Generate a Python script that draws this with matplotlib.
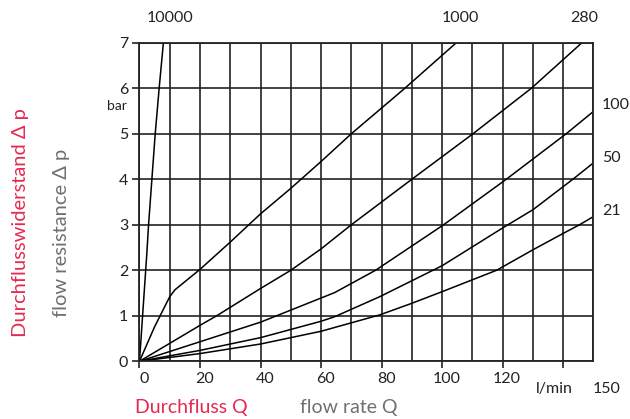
import matplotlib
matplotlib.use("Agg")
import matplotlib.pyplot as plt
import matplotlib.transforms as mtransforms

# flow resistance curves (x: l/min, y: bar)
q_10000 = [0, 2.4, 3.0, 5.2, 6.5, 7.9]
dp_10000 = [0, 2.34, 3.0, 5.0, 6.0, 7.0]

q_1000 = [0, 5, 10, 11.7, 20, 30, 40, 50, 60, 70, 87.7, 104.7]
dp_1000 = [0, 0.76, 1.42, 1.57, 2.02, 2.62, 3.24, 3.80, 4.39, 5.0, 6.0, 7.0]

q_280 = [0, 20, 25.5, 40, 50, 60, 70, 90, 110.2, 129.5, 146.2]
dp_280 = [0, 0.79, 1.0, 1.6, 2.0, 2.47, 3.0, 4.0, 5.0, 6.0, 7.0]

q_100 = [0, 20, 40, 45.3, 64.5, 78, 100.5, 121.2, 141, 150]
dp_100 = [0, 0.43, 0.86, 1.0, 1.51, 2.0, 3.0, 4.0, 5.0, 5.49]

q_50 = [0, 20, 40, 60, 64.5, 79.4, 100, 120, 130, 143.2, 150]
dp_50 = [0, 0.24, 0.52, 0.88, 0.98, 1.42, 2.1, 2.93, 3.33, 4.0, 4.36]

q_21 = [0, 20, 40, 60, 79.4, 89.8, 100, 118, 130, 140, 145.4, 150]
dp_21 = [0, 0.17, 0.38, 0.66, 1.02, 1.27, 1.53, 2.0, 2.45, 2.81, 3.0, 3.18]

x_ticks = [0, 20, 40, 60, 80, 100, 120, 140]
x_labels = ["0", "20", "40", "60", "80", "100", "120", ""]
y_ticks = [0, 1, 2, 3, 4, 5, 6, 7]

RED = "#e52a50"
GRAY = "#707070"
INK = "#222222"

plt.rcParams["font.family"] = ["Lato", "DejaVu Sans"]

fig = plt.figure(figsize=(6.3, 4.19), dpi=100)
ax = fig.add_axes([0.2214, 0.1377, 0.7206, 0.7604])

series = [(q_10000, dp_10000), (q_1000, dp_1000), (q_280, dp_280),
          (q_100, dp_100), (q_50, dp_50), (q_21, dp_21)]
for q, dp in series:
    ax.plot(q, dp, color="black", lw=1.1, solid_joinstyle="round")

ax.set_xlim(0, 150)
ax.set_ylim(0, 7)
ax.set_xticks(range(0, 151, 10), minor=True)
ax.set_xticks(x_ticks)
ax.set_xticklabels(x_labels)
ax.set_yticks(y_ticks)
ax.grid(True, which="both", color=INK, lw=1.2)
ax.tick_params(axis="x", which="minor", length=0)
ax.tick_params(axis="both", which="major", length=5, width=1.2, color=INK,
               labelsize=11.5, labelcolor=INK, pad=3)
for s in ax.spines.values():
    s.set_color(INK)
    s.set_linewidth(1.3)
ax.set_axisbelow(True)

# x tick labels sit a little to the right of their ticks
shift = mtransforms.ScaledTranslation(0.045, 0, fig.dpi_scale_trans)
for lbl in ax.get_xticklabels():
    lbl.set_transform(lbl.get_transform() + shift)

# curve labels
for txt, x, y in [("10000", 10, 7.55), ("1000", 106, 7.55), ("280", 147, 7.55)]:
    ax.text(x, y, txt, ha="center", va="center", fontsize=11.5, color=INK)
for txt, y in [("100", 5.63), ("50", 4.47), ("21", 3.3)]:
    ax.text(152.8, y, txt, ha="left", va="center", fontsize=11.5, color=INK)

ax.text(-4.2, 5.6, "bar", ha="right", va="center", fontsize=10, color=INK)
ax.text(137, -0.6, "l/min", ha="center", va="center", fontsize=11.5, color=INK)
ax.text(154.5, -0.6, "150", ha="center", va="center", fontsize=11.5, color=INK)

fig.text(0.032, 0.47, "Durchflusswiderstand \u0394 p", rotation=90,
         ha="center", va="center", fontsize=14.5, color=RED)
fig.text(0.098, 0.445, "flow resistance \u0394 p", rotation=90,
         ha="center", va="center", fontsize=14.5, color=GRAY)
fig.text(0.214, 0.028, "Durchfluss Q", ha="left", va="center",
         fontsize=14, color=RED)
fig.text(0.476, 0.028, "flow rate Q", ha="left", va="center",
         fontsize=14, color=GRAY)

fig.savefig("out.png", dpi=100)
